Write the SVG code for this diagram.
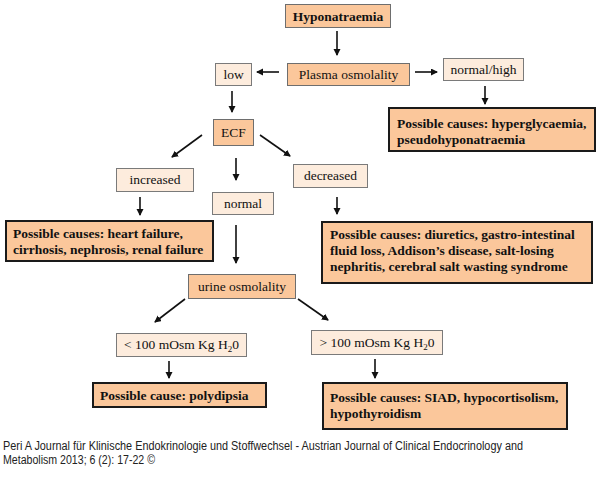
<svg xmlns="http://www.w3.org/2000/svg" width="600" height="494" viewBox="0 0 600 494">
<style>
.dk{fill:#fbc79b;stroke:#6e6e6e;stroke-width:1}
.lt{fill:#fdecdd;stroke:#7a7a7a;stroke-width:1}
.th{fill:#fbc79b;stroke:#1a1a1a;stroke-width:2}
text{font-family:"Liberation Serif","Times New Roman",serif;font-size:13.5px;fill:#111}
.b{font-weight:bold}
.c{text-anchor:middle}
.ft{font-family:"Liberation Sans",Arial,sans-serif;font-size:12px;fill:#222}
.cn line{stroke:#111;stroke-width:1.6;marker-end:url(#ah)}
</style>
<defs>
<marker id="ah" markerUnits="userSpaceOnUse" markerWidth="8" markerHeight="8" refX="6" refY="3.5" orient="auto">
<path d="M0,0 L7,3.5 L0,7 Z" fill="#111"/>
</marker>
</defs>
<rect width="600" height="494" fill="#fff"/>
<g class="cn" id="connectors">
<line x1="337" y1="31" x2="337" y2="55"/>
<line x1="279" y1="72" x2="257" y2="72"/>
<line x1="415" y1="72" x2="437" y2="72"/>
<line x1="485" y1="86" x2="485" y2="104"/>
<line x1="232" y1="91" x2="232" y2="112"/>
<line x1="202" y1="135" x2="172" y2="157"/>
<line x1="236" y1="158" x2="236" y2="180"/>
<line x1="260" y1="135" x2="290" y2="156"/>
<line x1="140" y1="197" x2="140" y2="215"/>
<line x1="337" y1="197" x2="337" y2="214"/>
<line x1="236" y1="225" x2="236" y2="263"/>
<line x1="185" y1="299" x2="155" y2="322"/>
<line x1="298" y1="299" x2="328" y2="320"/>
<line x1="169" y1="361" x2="169" y2="378"/>
<line x1="375" y1="359" x2="375" y2="378"/>
</g>
<g id="hyponatraemia"><rect class="dk" x="285.5" y="4.5" width="105" height="23"/><text class="b c" x="338" y="20.5">Hyponatraemia</text></g>
<g id="plasma"><rect class="dk" x="287.5" y="63.5" width="122" height="22"/><text class="c" x="348.5" y="79">Plasma osmolality</text></g>
<g id="low"><rect class="lt" x="215.5" y="63.5" width="36" height="22"/><text class="c" x="233.5" y="79">low</text></g>
<g id="normalhigh"><rect class="lt" x="443.5" y="58.5" width="80" height="22"/><text class="c" x="483.5" y="74">normal/high</text></g>
<g id="cause-hyper"><rect class="th" x="389" y="108" width="206" height="43"/><text class="b" x="397" y="128">Possible causes: hyperglycaemia,</text><text class="b" x="397" y="144">pseudohyponatraemia</text></g>
<g id="ecf"><rect class="dk" x="213.5" y="119.5" width="40" height="26"/><text class="c" x="233.5" y="137">ECF</text></g>
<g id="increased"><rect class="lt" x="116.5" y="168.5" width="77" height="23"/><text class="c" x="155" y="184">increased</text></g>
<g id="normal"><rect class="lt" x="212.5" y="192.5" width="61" height="22"/><text class="c" x="243" y="208">normal</text></g>
<g id="decreased"><rect class="lt" x="293.5" y="164.5" width="74" height="23"/><text class="c" x="330.5" y="180">decreased</text></g>
<g id="cause-heart"><rect class="th" x="6" y="221" width="207" height="40"/><text class="b" x="13" y="237.5">Possible causes: heart failure,</text><text class="b" x="13" y="253.5">cirrhosis, nephrosis, renal failure</text></g>
<g id="cause-diuretics"><rect class="th" x="322" y="222" width="270" height="61"/><text class="b" x="330" y="239">Possible causes: diuretics, gastro-intestinal</text><text class="b" x="330" y="255">fluid loss, Addison’s disease, salt-losing</text><text class="b" x="330" y="271">nephritis, cerebral salt wasting syndrome</text></g>
<g id="urine"><rect class="dk" x="188.5" y="274.5" width="107" height="24"/><text class="c" x="242" y="290.5">urine osmolality</text></g>
<g id="lt100"><rect class="lt" x="116.5" y="333.5" width="130" height="23"/><text class="c" x="181.5" y="349">&lt; 100 mOsm Kg H<tspan font-size="9" dy="3">2</tspan><tspan dy="-3">0</tspan></text></g>
<g id="gt100"><rect class="lt" x="311.5" y="330.5" width="131" height="24"/><text class="c" x="377" y="346.5">&gt; 100 mOsm Kg H<tspan font-size="9" dy="3">2</tspan><tspan dy="-3">0</tspan></text></g>
<g id="cause-poly"><rect class="th" x="93" y="383" width="173" height="24"/><text class="b" x="100" y="399.5">Possible cause: polydipsia</text></g>
<g id="cause-siad"><rect class="th" x="323" y="383" width="244" height="46"/><text class="b" x="330" y="401.5">Possible causes: SIAD, hypocortisolism,</text><text class="b" x="330" y="418">hypothyroidism</text></g>
<g id="footer">
<text class="ft" x="3" y="450" textLength="520" lengthAdjust="spacingAndGlyphs">Peri A Journal für Klinische Endokrinologie und Stoffwechsel - Austrian Journal of Clinical Endocrinology and</text>
<text class="ft" x="3" y="464" textLength="152" lengthAdjust="spacingAndGlyphs">Metabolism 2013; 6 (2): 17-22 ©</text>
</g>
</svg>
